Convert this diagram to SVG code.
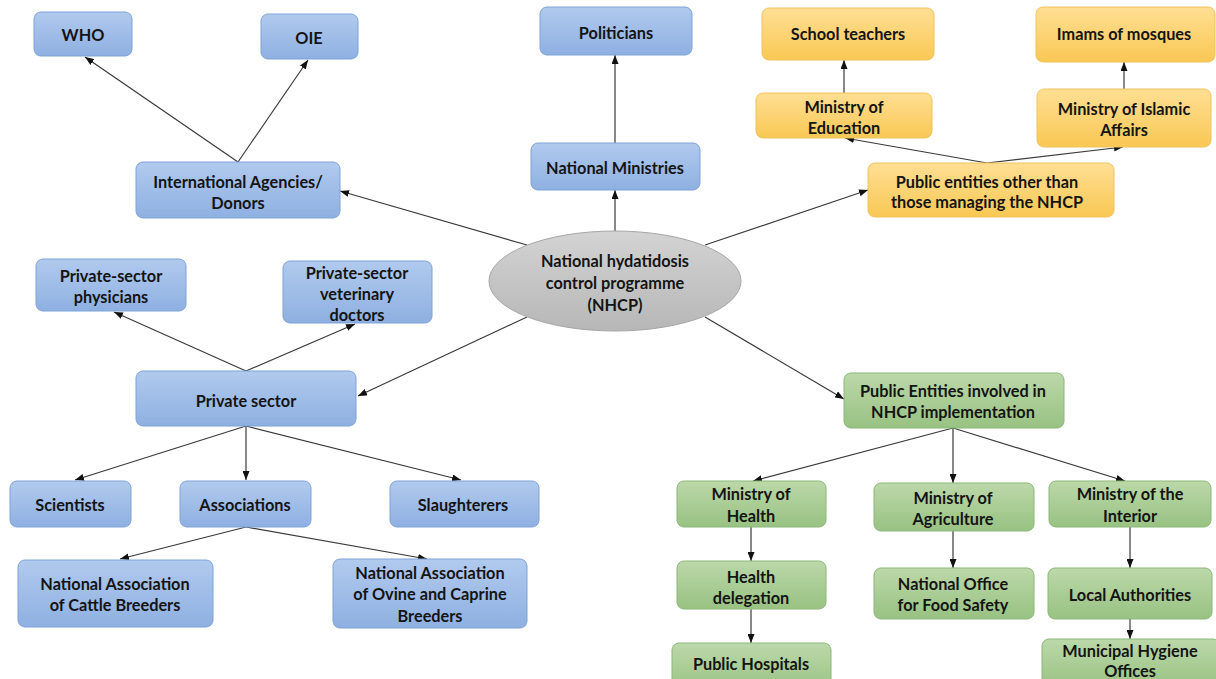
<svg xmlns="http://www.w3.org/2000/svg" width="1216" height="679" viewBox="0 0 1216 679">
<defs>
<linearGradient id="gb" x1="0" y1="0" x2="0" y2="1"><stop offset="0" stop-color="#b1caee"/><stop offset="1" stop-color="#8eb0e1"/></linearGradient>
<linearGradient id="go" x1="0" y1="0" x2="0" y2="1"><stop offset="0" stop-color="#ffdf94"/><stop offset="1" stop-color="#f9c854"/></linearGradient>
<linearGradient id="gg" x1="0" y1="0" x2="0" y2="1"><stop offset="0" stop-color="#bcd8a9"/><stop offset="1" stop-color="#98c282"/></linearGradient>
<linearGradient id="ge" x1="0" y1="0" x2="0" y2="1"><stop offset="0" stop-color="#d3d3d3"/><stop offset="1" stop-color="#b7b7b7"/></linearGradient>
<marker id="ar" markerUnits="userSpaceOnUse" markerWidth="9" markerHeight="7" refX="9" refY="3.5" orient="auto"><path d="M0,0 L9,3.5 L0,7 z" fill="#111"/></marker>
<style>
.b rect{fill:url(#gb);stroke:#7fa3d6;stroke-width:1}
.o rect{fill:url(#go);stroke:#efc25e;stroke-width:1}
.g rect{fill:url(#gg);stroke:#8ab878;stroke-width:1}
text{font-family:Lato,"Liberation Sans",sans-serif;font-weight:bold;font-size:16.3px;fill:#141414;text-anchor:middle;dominant-baseline:central}
#connectors line{stroke:#3a3a3a;stroke-width:1.2;marker-end:url(#ar)}
</style>
</defs>
<rect width="1216" height="679" fill="#fff"/>
<g id="connectors">
<line x1="527" y1="245" x2="340" y2="191"/>
<line x1="238" y1="162" x2="85" y2="57"/>
<line x1="238" y1="162" x2="308" y2="60"/>
<line x1="615" y1="231" x2="615" y2="190"/>
<line x1="615" y1="143" x2="615" y2="55"/>
<line x1="705" y1="245" x2="868" y2="190"/>
<line x1="987" y1="163" x2="845" y2="138"/>
<line x1="987" y1="163" x2="1123" y2="147"/>
<line x1="844" y1="93" x2="844" y2="60"/>
<line x1="1124" y1="89" x2="1124" y2="62"/>
<line x1="527" y1="317" x2="358" y2="396"/>
<line x1="246" y1="371" x2="114" y2="312"/>
<line x1="246" y1="371" x2="355" y2="324"/>
<line x1="246" y1="426" x2="75" y2="480"/>
<line x1="246" y1="426" x2="246" y2="480"/>
<line x1="246" y1="426" x2="461" y2="480"/>
<line x1="246" y1="527" x2="120" y2="559"/>
<line x1="246" y1="527" x2="427" y2="559"/>
<line x1="705" y1="317" x2="844" y2="399"/>
<line x1="953" y1="428" x2="753" y2="481"/>
<line x1="953" y1="428" x2="953" y2="483"/>
<line x1="953" y1="428" x2="1125" y2="481"/>
<line x1="751" y1="527" x2="751" y2="561"/>
<line x1="751" y1="609" x2="751" y2="643"/>
<line x1="953" y1="531" x2="953" y2="568"/>
<line x1="1130" y1="527" x2="1130" y2="568"/>
<line x1="1130" y1="619" x2="1130" y2="639"/>
</g>
<g id="nhcp"><ellipse cx="615" cy="281" rx="126" ry="50" fill="url(#ge)" stroke="#a6a6a6"/><text x="615" y="260">National hydatidosis</text><text x="615" y="282">control programme</text><text x="615" y="304">(NHCP)</text></g>
<g id="who" class="b"><rect x="34" y="12" width="98" height="44" rx="7"/><text x="83" y="34">WHO</text></g>
<g id="oie" class="b"><rect x="261" y="14" width="97" height="45" rx="7"/><text x="309" y="37">OIE</text></g>
<g id="politicians" class="b"><rect x="540" y="7" width="152" height="48" rx="7"/><text x="616" y="32">Politicians</text></g>
<g id="ministries" class="b"><rect x="531" y="143" width="169" height="47" rx="7"/><text x="615" y="167">National Ministries</text></g>
<g id="intl" class="b"><rect x="136" y="162" width="204" height="56" rx="7"/><text x="238" y="181">International Agencies/</text><text x="238" y="202">Donors</text></g>
<g id="school" class="o"><rect x="762" y="8" width="172" height="52" rx="7"/><text x="848" y="33">School teachers</text></g>
<g id="imams" class="o"><rect x="1036" y="7" width="179" height="55" rx="7"/><text x="1124" y="33">Imams of mosques</text></g>
<g id="moe" class="o"><rect x="756" y="93" width="176" height="45" rx="7"/><text x="844" y="106">Ministry of</text><text x="844" y="127">Education</text></g>
<g id="moia" class="o"><rect x="1037" y="89" width="174" height="58" rx="7"/><text x="1124" y="108">Ministry of Islamic</text><text x="1124" y="129">Affairs</text></g>
<g id="pubother" class="o"><rect x="868" y="163" width="246" height="54" rx="7"/><text x="987" y="181">Public entities other than</text><text x="987" y="201">those managing the NHCP</text></g>
<g id="physicians" class="b"><rect x="36" y="259" width="150" height="52" rx="7"/><text x="111" y="275">Private-sector</text><text x="111" y="296">physicians</text></g>
<g id="vets" class="b"><rect x="283" y="261" width="149" height="62" rx="7"/><text x="357" y="272">Private-sector</text><text x="357" y="293">veterinary</text><text x="357" y="314">doctors</text></g>
<g id="private" class="b"><rect x="136" y="371" width="220" height="55" rx="7"/><text x="246" y="400">Private sector</text></g>
<g id="scientists" class="b"><rect x="10" y="481" width="121" height="46" rx="7"/><text x="70" y="504">Scientists</text></g>
<g id="associations" class="b"><rect x="180" y="481" width="131" height="46" rx="7"/><text x="245" y="504">Associations</text></g>
<g id="slaughterers" class="b"><rect x="390" y="481" width="149" height="46" rx="7"/><text x="463" y="504">Slaughterers</text></g>
<g id="cattle" class="b"><rect x="18" y="560" width="195" height="67" rx="7"/><text x="115" y="583">National Association</text><text x="115" y="604">of Cattle Breeders</text></g>
<g id="ovine" class="b"><rect x="333" y="559" width="194" height="69" rx="7"/><text x="430" y="572">National Association</text><text x="430" y="593">of Ovine and Caprine</text><text x="430" y="615">Breeders</text></g>
<g id="pubinv" class="g"><rect x="844" y="373" width="220" height="55" rx="7"/><text x="953" y="390">Public Entities involved in</text><text x="953" y="411">NHCP implementation</text></g>
<g id="moh" class="g"><rect x="677" y="481" width="149" height="46" rx="7"/><text x="751" y="493">Ministry of</text><text x="751" y="515">Health</text></g>
<g id="moa" class="g"><rect x="874" y="483" width="160" height="48" rx="7"/><text x="953" y="497">Ministry of</text><text x="953" y="518">Agriculture</text></g>
<g id="moi" class="g"><rect x="1049" y="481" width="162" height="46" rx="7"/><text x="1130" y="493">Ministry of the</text><text x="1130" y="515">Interior</text></g>
<g id="healthdel" class="g"><rect x="677" y="561" width="149" height="48" rx="7"/><text x="751" y="576">Health</text><text x="751" y="597">delegation</text></g>
<g id="nofs" class="g"><rect x="874" y="568" width="160" height="51" rx="7"/><text x="953" y="583">National Office</text><text x="953" y="604">for Food Safety</text></g>
<g id="local" class="g"><rect x="1048" y="568" width="164" height="51" rx="7"/><text x="1130" y="594">Local Authorities</text></g>
<g id="hospitals" class="g"><rect x="672" y="643" width="159" height="50" rx="7"/><text x="751" y="663">Public Hospitals</text></g>
<g id="mho" class="g"><rect x="1042" y="639" width="178" height="50" rx="7"/><text x="1130" y="650">Municipal Hygiene</text><text x="1130" y="670">Offices</text></g>
</svg>
